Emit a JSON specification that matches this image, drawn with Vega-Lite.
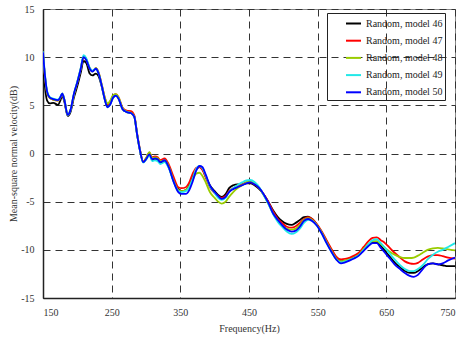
{
  "$schema": "https://vega.github.io/schema/vega-lite/v6.json",
  "width": 412,
  "height": 289,
  "autosize": {"type": "none"},
  "padding": {"left": 43, "top": 9, "right": 12, "bottom": 44},
  "background": "white",
  "config": {
    "view": {"stroke": "#888", "strokeWidth": 1},
    "axis": {
      "labelFont": "Liberation Serif",
      "titleFont": "Liberation Serif",
      "labelFontSize": 10,
      "titleFontSize": 10,
      "titleFontWeight": "normal",
      "labelColor": "#333",
      "titleColor": "#333",
      "ticks": false,
      "grid": true,
      "gridDash": [7, 5],
      "gridColor": "#333",
      "gridWidth": 1,
      "gridOpacity": 1,
      "domainColor": "#222",
      "domainWidth": 1.5
    },
    "legend": {
      "labelFont": "Liberation Serif",
      "labelFontSize": 10,
      "labelColor": "#222"
    }
  },
  "data": {
    "values": [
      {"f": 150, "m46": 9.6, "m47": 10.3, "m48": 10.4, "m49": 10.6, "m50": 10.5},
      {"f": 153, "m46": 6.8, "m47": 7.9, "m48": 7.9, "m49": 8.1, "m50": 8.0},
      {"f": 156, "m46": 5.5, "m47": 6.3, "m48": 6.3, "m49": 6.5, "m50": 6.4},
      {"f": 160, "m46": 5.2, "m47": 5.75, "m48": 5.75, "m49": 5.85, "m50": 5.8},
      {"f": 165, "m46": 5.25, "m47": 5.6, "m48": 5.6, "m49": 5.7, "m50": 5.65},
      {"f": 172, "m46": 5.05, "m47": 5.5, "m48": 5.5, "m49": 5.6, "m50": 5.55},
      {"f": 175, "m46": 5.45, "m47": 5.75, "m48": 5.75, "m49": 5.85, "m50": 5.8},
      {"f": 178, "m46": 6.0, "m47": 6.2, "m48": 6.2, "m49": 6.25, "m50": 6.2},
      {"f": 181, "m46": 5.4, "m47": 5.6, "m48": 5.6, "m49": 5.65, "m50": 5.6},
      {"f": 186, "m46": 3.9, "m47": 4.0, "m48": 4.0, "m49": 4.0, "m50": 4.0},
      {"f": 190, "m46": 4.3, "m47": 4.5, "m48": 4.5, "m49": 4.5, "m50": 4.5},
      {"f": 195, "m46": 5.8, "m47": 6.1, "m48": 6.1, "m49": 6.2, "m50": 6.2},
      {"f": 200, "m46": 7.0, "m47": 7.4, "m48": 7.4, "m49": 7.5, "m50": 7.4},
      {"f": 205, "m46": 8.4, "m47": 8.8, "m48": 8.8, "m49": 8.9, "m50": 8.8},
      {"f": 209, "m46": 9.6, "m47": 10.0, "m48": 10.0, "m49": 10.2, "m50": 10.0},
      {"f": 213, "m46": 9.4, "m47": 9.75, "m48": 9.75, "m49": 9.9, "m50": 9.7},
      {"f": 218, "m46": 8.3, "m47": 8.85, "m48": 8.85, "m49": 8.9, "m50": 8.8},
      {"f": 222, "m46": 8.1, "m47": 8.55, "m48": 8.5, "m49": 8.6, "m50": 8.5},
      {"f": 227, "m46": 8.3, "m47": 8.85, "m48": 8.85, "m49": 8.8, "m50": 8.8},
      {"f": 231, "m46": 8.0, "m47": 8.4, "m48": 8.4, "m49": 8.3, "m50": 8.3},
      {"f": 236, "m46": 6.8, "m47": 7.0, "m48": 7.0, "m49": 6.9, "m50": 6.9},
      {"f": 240, "m46": 5.6, "m47": 5.8, "m48": 5.8, "m49": 5.6, "m50": 5.6},
      {"f": 244, "m46": 4.9, "m47": 5.1, "m48": 5.2, "m49": 4.8, "m50": 4.8},
      {"f": 248, "m46": 5.2, "m47": 5.4, "m48": 5.5, "m49": 5.1, "m50": 5.1},
      {"f": 252, "m46": 5.8, "m47": 6.0, "m48": 6.05, "m49": 5.8, "m50": 5.8},
      {"f": 256, "m46": 6.0, "m47": 6.15, "m48": 6.15, "m49": 6.0, "m50": 6.0},
      {"f": 260, "m46": 5.7, "m47": 5.85, "m48": 5.85, "m49": 5.7, "m50": 5.7},
      {"f": 266, "m46": 4.6, "m47": 4.75, "m48": 4.7, "m49": 4.6, "m50": 4.6},
      {"f": 272, "m46": 4.3, "m47": 4.45, "m48": 4.35, "m49": 4.3, "m50": 4.3},
      {"f": 278, "m46": 4.2, "m47": 4.4, "m48": 4.25, "m49": 4.2, "m50": 4.2},
      {"f": 283, "m46": 3.8, "m47": 3.95, "m48": 3.85, "m49": 3.8, "m50": 3.8},
      {"f": 287, "m46": 2.0, "m47": 2.1, "m48": 2.0, "m49": 2.0, "m50": 2.0},
      {"f": 291, "m46": 0.4, "m47": 0.5, "m48": 0.4, "m49": 0.4, "m50": 0.4},
      {"f": 296, "m46": -0.9, "m47": -0.85, "m48": -0.9, "m49": -0.95, "m50": -0.9},
      {"f": 300, "m46": -0.6, "m47": -0.5, "m48": -0.5, "m49": -0.65, "m50": -0.6},
      {"f": 305, "m46": -0.1, "m47": 0.1, "m48": 0.15, "m49": -0.2, "m50": -0.1},
      {"f": 309, "m46": -0.7, "m47": -0.4, "m48": -0.5, "m49": -0.8, "m50": -0.6},
      {"f": 313, "m46": -0.6, "m47": -0.3, "m48": -0.4, "m49": -0.7, "m50": -0.5},
      {"f": 317, "m46": -0.7, "m47": -0.4, "m48": -0.5, "m49": -0.8, "m50": -0.6},
      {"f": 321, "m46": -1.0, "m47": -0.7, "m48": -0.8, "m49": -1.1, "m50": -0.9},
      {"f": 327, "m46": -0.8, "m47": -0.5, "m48": -0.7, "m49": -0.9, "m50": -0.7},
      {"f": 333, "m46": -1.4, "m47": -1.1, "m48": -1.3, "m49": -1.5, "m50": -1.4},
      {"f": 340, "m46": -2.8, "m47": -2.4, "m48": -2.8, "m49": -2.9, "m50": -2.9},
      {"f": 347, "m46": -3.7, "m47": -3.5, "m48": -3.8, "m49": -3.9, "m50": -4.0},
      {"f": 352, "m46": -3.9, "m47": -3.6, "m48": -3.9, "m49": -4.0, "m50": -4.2},
      {"f": 358, "m46": -3.8, "m47": -3.5, "m48": -3.8, "m49": -3.9, "m50": -4.2},
      {"f": 363, "m46": -3.3, "m47": -3.0, "m48": -3.4, "m49": -3.5, "m50": -3.8},
      {"f": 368, "m46": -2.4, "m47": -2.1, "m48": -2.7, "m49": -2.6, "m50": -2.9},
      {"f": 373, "m46": -1.6, "m47": -1.5, "m48": -2.1, "m49": -1.6, "m50": -1.8},
      {"f": 378, "m46": -1.4, "m47": -1.4, "m48": -2.0, "m49": -1.3, "m50": -1.3},
      {"f": 382, "m46": -1.6, "m47": -1.7, "m48": -2.3, "m49": -1.5, "m50": -1.4},
      {"f": 387, "m46": -2.4, "m47": -2.5, "m48": -3.0, "m49": -2.3, "m50": -2.2},
      {"f": 393, "m46": -3.3, "m47": -3.5, "m48": -4.0, "m49": -3.4, "m50": -3.3},
      {"f": 400, "m46": -3.9, "m47": -4.1, "m48": -4.6, "m49": -4.1, "m50": -4.0},
      {"f": 405, "m46": -4.3, "m47": -4.4, "m48": -5.0, "m49": -4.6, "m50": -4.4},
      {"f": 410, "m46": -4.5, "m47": -4.6, "m48": -5.2, "m49": -4.8, "m50": -4.7},
      {"f": 416, "m46": -4.2, "m47": -4.4, "m48": -5.0, "m49": -4.6, "m50": -4.5},
      {"f": 421, "m46": -3.6, "m47": -3.9, "m48": -4.5, "m49": -4.0, "m50": -4.0},
      {"f": 427, "m46": -3.3, "m47": -3.6, "m48": -4.0, "m49": -3.6, "m50": -3.7},
      {"f": 433, "m46": -3.2, "m47": -3.4, "m48": -3.6, "m49": -3.3, "m50": -3.5},
      {"f": 440, "m46": -3.2, "m47": -3.2, "m48": -3.3, "m49": -3.0, "m50": -3.3},
      {"f": 446, "m46": -3.1, "m47": -3.0, "m48": -3.0, "m49": -2.8, "m50": -3.1},
      {"f": 452, "m46": -3.1, "m47": -3.0, "m48": -2.9, "m49": -2.75, "m50": -3.0},
      {"f": 458, "m46": -3.3, "m47": -3.2, "m48": -3.1, "m49": -2.95, "m50": -3.2},
      {"f": 465, "m46": -3.7, "m47": -3.6, "m48": -3.6, "m49": -3.5, "m50": -3.6},
      {"f": 472, "m46": -4.3, "m47": -4.3, "m48": -4.4, "m49": -4.4, "m50": -4.3},
      {"f": 478, "m46": -5.0, "m47": -5.0, "m48": -5.2, "m49": -5.2, "m50": -5.1},
      {"f": 485, "m46": -5.9, "m47": -6.0, "m48": -6.2, "m49": -6.3, "m50": -6.2},
      {"f": 492, "m46": -6.6, "m47": -6.8, "m48": -7.0, "m49": -7.1, "m50": -6.9},
      {"f": 498, "m46": -7.0, "m47": -7.2, "m48": -7.5, "m49": -7.6, "m50": -7.4},
      {"f": 505, "m46": -7.3, "m47": -7.6, "m48": -7.8, "m49": -8.1, "m50": -7.9},
      {"f": 512, "m46": -7.4, "m47": -7.7, "m48": -7.9, "m49": -8.35, "m50": -8.1},
      {"f": 518, "m46": -7.2, "m47": -7.55, "m48": -7.8, "m49": -8.2, "m50": -8.0},
      {"f": 524, "m46": -6.9, "m47": -7.2, "m48": -7.4, "m49": -7.8, "m50": -7.6},
      {"f": 530, "m46": -6.6, "m47": -6.8, "m48": -6.9, "m49": -7.2, "m50": -7.0},
      {"f": 536, "m46": -6.55, "m47": -6.6, "m48": -6.7, "m49": -6.9, "m50": -6.8},
      {"f": 542, "m46": -6.8, "m47": -6.8, "m48": -6.9, "m49": -7.0, "m50": -7.0},
      {"f": 549, "m46": -7.4, "m47": -7.35, "m48": -7.45, "m49": -7.5, "m50": -7.5},
      {"f": 556, "m46": -8.2, "m47": -8.1, "m48": -8.2, "m49": -8.3, "m50": -8.3},
      {"f": 563, "m46": -9.1, "m47": -9.0, "m48": -9.2, "m49": -9.3, "m50": -9.3},
      {"f": 570, "m46": -10.0, "m47": -9.9, "m48": -10.1, "m49": -10.2, "m50": -10.2},
      {"f": 577, "m46": -10.8, "m47": -10.7, "m48": -10.9, "m49": -11.0, "m50": -11.0},
      {"f": 584, "m46": -11.2, "m47": -11.0, "m48": -11.2, "m49": -11.3, "m50": -11.4},
      {"f": 590, "m46": -11.15, "m47": -10.95, "m48": -11.1, "m49": -11.2, "m50": -11.3},
      {"f": 597, "m46": -11.0, "m47": -10.8, "m48": -11.0, "m49": -11.05, "m50": -11.1},
      {"f": 603, "m46": -10.8, "m47": -10.6, "m48": -10.8, "m49": -10.85, "m50": -10.9},
      {"f": 610, "m46": -10.5, "m47": -10.3, "m48": -10.5, "m49": -10.55, "m50": -10.6},
      {"f": 617, "m46": -10.0, "m47": -9.7, "m48": -9.9, "m49": -10.0, "m50": -10.1},
      {"f": 624, "m46": -9.5, "m47": -9.1, "m48": -9.4, "m49": -9.4, "m50": -9.6},
      {"f": 630, "m46": -9.2, "m47": -8.75, "m48": -9.1, "m49": -9.0, "m50": -9.3},
      {"f": 636, "m46": -9.2, "m47": -8.7, "m48": -9.1, "m49": -8.9, "m50": -9.3},
      {"f": 642, "m46": -9.6, "m47": -9.0, "m48": -9.4, "m49": -9.3, "m50": -9.8},
      {"f": 648, "m46": -10.1, "m47": -9.3, "m48": -9.8, "m49": -9.8, "m50": -10.3},
      {"f": 655, "m46": -10.7, "m47": -9.8, "m48": -10.2, "m49": -10.4, "m50": -10.9},
      {"f": 662, "m46": -11.3, "m47": -10.3, "m48": -10.5, "m49": -11.0, "m50": -11.5},
      {"f": 670, "m46": -11.8, "m47": -10.8, "m48": -10.75, "m49": -11.6, "m50": -12.0},
      {"f": 677, "m46": -12.2, "m47": -11.2, "m48": -10.85, "m49": -12.0, "m50": -12.4},
      {"f": 684, "m46": -12.4, "m47": -11.4, "m48": -10.85, "m49": -12.2, "m50": -12.7},
      {"f": 690, "m46": -12.4, "m47": -11.45, "m48": -10.8, "m49": -12.2, "m50": -12.8},
      {"f": 696, "m46": -12.2, "m47": -11.35, "m48": -10.6, "m49": -12.0, "m50": -12.6},
      {"f": 703, "m46": -11.8, "m47": -11.0, "m48": -10.3, "m49": -11.6, "m50": -12.0},
      {"f": 710, "m46": -11.5, "m47": -10.7, "m48": -10.0, "m49": -11.0, "m50": -11.5},
      {"f": 718, "m46": -11.4, "m47": -10.55, "m48": -9.85, "m49": -10.5, "m50": -11.4},
      {"f": 725, "m46": -11.5, "m47": -10.55, "m48": -9.8, "m49": -10.2, "m50": -11.5},
      {"f": 732, "m46": -11.6, "m47": -10.65, "m48": -9.85, "m49": -10.0, "m50": -11.4},
      {"f": 740, "m46": -11.7, "m47": -10.8, "m48": -9.95, "m49": -9.7, "m50": -11.1},
      {"f": 750, "m46": -11.7, "m47": -10.9, "m48": -10.05, "m49": -9.3, "m50": -10.8}
    ]
  },
  "transform": [
    {"fold": ["m46", "m47", "m48", "m49", "m50"], "as": ["model", "v"]}
  ],
  "mark": {"type": "line", "interpolate": "monotone", "strokeWidth": 1.8, "clip": true},
  "encoding": {
    "x": {
      "field": "f",
      "type": "quantitative",
      "scale": {"domain": [150, 750], "nice": false},
      "axis": {
        "title": "Frequency(Hz)",
        "values": [150, 250, 350, 450, 550, 650, 750],
        "labelPadding": 9,
        "titlePadding": 6
      }
    },
    "y": {
      "field": "v",
      "type": "quantitative",
      "scale": {"domain": [-15, 15], "nice": false},
      "axis": {
        "title": "Mean-square normal velocity(dB)",
        "values": [-15, -10, -5, 0, 5, 10, 15],
        "labelExpr": "'' + datum.value",
        "labelPadding": 9,
        "titlePadding": 2
      }
    },
    "color": {
      "field": "model",
      "type": "nominal",
      "scale": {
        "domain": ["m46", "m47", "m48", "m49", "m50"],
        "range": ["#000000", "#ff0000", "#99cc00", "#22e8e8", "#0000ff"]
      },
      "legend": {
        "title": null,
        "orient": "none",
        "legendX": 284,
        "legendY": 4,
        "strokeColor": "#222",
        "padding": 2,
        "symbolType": "stroke",
        "symbolSize": 225,
        "symbolStrokeWidth": 2,
        "symbolOffset": 16,
        "labelOffset": 4,
        "rowPadding": 3.2,
        "labelExpr": "'Random, model ' + slice(datum.label, 1) + '    '"
      }
    }
  }
}
